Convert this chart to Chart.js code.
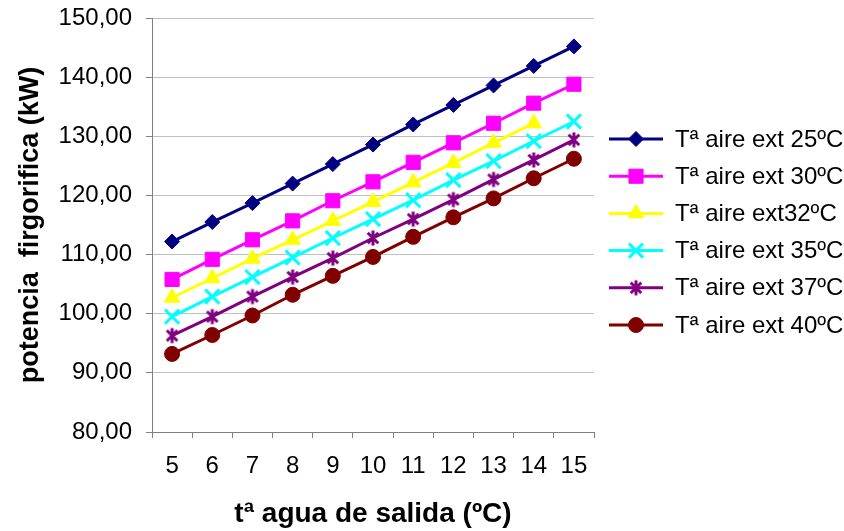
<!DOCTYPE html>
<html>
<head>
<meta charset="utf-8">
<script src="https://cdn.jsdelivr.net/npm/chart.js@4/dist/chart.umd.min.js"></script>
<style>
  html, body { margin: 0; padding: 0; background: #fff; }
  canvas { display: block; }
</style>
</head>
<body>
<canvas id="chart" width="844" height="531"></canvas>
<script>
// Water outlet temperature (ºC)
const categories = ['5', '6', '7', '8', '9', '10', '11', '12', '13', '14', '15'];

// Cooling capacity (kW) for each outdoor air temperature
const aire25 = [112.2, 115.5, 118.7, 122.0, 125.3, 128.6, 132.0, 135.3, 138.6, 141.9, 145.2];
const aire30 = [105.8, 109.2, 112.5, 115.7, 119.1, 122.3, 125.6, 128.9, 132.2, 135.6, 138.8];
const aire32 = [102.7, 106.0, 109.3, 112.5, 115.7, 118.9, 122.2, 125.5, 128.9, 132.2, null];
const aire35 = [99.5, 102.9, 106.2, 109.5, 112.8, 116.0, 119.2, 122.6, 125.8, 129.2, 132.5];
const aire37 = [96.3, 99.5, 102.9, 106.2, 109.4, 112.8, 116.0, 119.3, 122.7, 126.0, 129.4];
const aire40 = [93.2, 96.4, 99.7, 103.2, 106.4, 109.6, 113.0, 116.3, 119.5, 122.9, 126.2];

const seriesNames = [
  'Tª aire ext 25ºC',
  'Tª aire ext 30ºC',
  'Tª aire ext32ºC',
  'Tª aire ext 35ºC',
  'Tª aire ext 37ºC',
  'Tª aire ext 40ºC'
];

const yTicks = { min: 80, max: 150, step: 10 };

const FONT = "'Liberation Sans', Arial, Helvetica, sans-serif";
Chart.defaults.color = '#000';
Chart.defaults.font.family = FONT;

// Six-armed asterisk marker (vertical bar plus an X)
function asteriskMarker(color, size) {
  const c = document.createElement('canvas');
  c.width = size; c.height = size;
  const g = c.getContext('2d');
  const m = size / 2, r = size / 2 - 1.5, d = r * Math.SQRT1_2;
  g.strokeStyle = color;
  g.lineWidth = 3;
  g.lineCap = 'butt';
  g.beginPath();
  g.moveTo(m, m - r); g.lineTo(m, m + r);
  g.moveTo(m - d, m - d); g.lineTo(m + d, m + d);
  g.moveTo(m + d, m - d); g.lineTo(m - d, m + d);
  g.stroke();
  return c;
}

function series(label, data, color, style, radius, filled) {
  return {
    label, data,
    borderColor: color,
    backgroundColor: color,
    borderWidth: 3,
    pointStyle: style,
    pointRadius: radius,
    pointHoverRadius: radius,
    pointBackgroundColor: filled ? color : 'transparent',
    pointBorderColor: color,
    pointBorderWidth: filled ? 1 : 3,
    tension: 0,
    fill: false,
    spanGaps: false
  };
}

const datasets = [
  series(seriesNames[0], aire25, '#000080', 'rectRot', 7.5, true),
  series(seriesNames[1], aire30, '#FF00FF', 'rect', 10, true),
  series(seriesNames[2], aire32, '#FFFF00', 'triangle', 9, true),
  series(seriesNames[3], aire35, '#00FFFF', 'crossRot', 10, false),
  series(seriesNames[4], aire37, '#800080', asteriskMarker('#800080', 18), 9, false),
  series(seriesNames[5], aire40, '#800000', 'circle', 7.5, true)
];

// Legend at the right: short line with the series marker, then the name
const sideLegend = {
  id: 'sideLegend',
  afterDraw(chart) {
    const ctx = chart.ctx;
    const x0 = 609, x1 = 663, xm = 636, xt = 675;
    const yStart = 139, rowGap = 37.2;
    ctx.save();
    chart.data.datasets.forEach((ds, i) => {
      const y = yStart + i * rowGap;
      ctx.strokeStyle = ds.borderColor;
      ctx.lineWidth = 3;
      ctx.beginPath();
      ctx.moveTo(x0, y);
      ctx.lineTo(x1, y);
      ctx.stroke();
      ctx.fillStyle = ds.pointBackgroundColor;
      ctx.strokeStyle = ds.pointBorderColor;
      ctx.lineWidth = ds.pointBorderWidth;
      Chart.helpers.drawPoint(ctx, {
        pointStyle: ds.pointStyle,
        radius: ds.pointRadius,
        borderWidth: ds.pointBorderWidth,
        rotation: 0
      }, xm, y);
      ctx.fillStyle = '#000';
      ctx.font = '24px ' + FONT;
      ctx.textBaseline = 'middle';
      ctx.textAlign = 'left';
      ctx.fillText(ds.label, xt, y + 1);
    });
    ctx.restore();
  }
};

new Chart(document.getElementById('chart'), {
  type: 'line',
  data: { labels: categories, datasets },
  options: {
    responsive: false,
    animation: false,
    events: [],
    layout: { padding: { top: 18, right: 250, left: 0, bottom: 0 } },
    plugins: {
      legend: { display: false },
      tooltip: { enabled: false }
    },
    scales: {
      x: {
        type: 'category',
        offset: true,
        afterFit(scale) { scale.height = 99; },
        grid: {
          offset: true,
          drawOnChartArea: false,
          tickLength: 6,
          tickColor: '#808080'
        },
        border: { color: '#808080', width: 1 },
        ticks: {
          autoSkip: false,
          maxRotation: 0,
          padding: 14,
          font: { size: 24, family: FONT },
          color: '#000'
        },
        title: {
          display: true,
          text: 'tª agua de salida (ºC)',
          font: { size: 28, weight: 'bold', family: FONT, lineHeight: 1.2 },
          padding: { top: 0, bottom: 0 },
          color: '#000'
        }
      },
      y: {
        min: yTicks.min,
        max: yTicks.max,
        afterFit(scale) {
          scale.width = 152;
          scale.paddingTop = 0;
          scale.paddingBottom = 0;
        },
        grid: {
          color: '#c0c0c0',
          tickColor: '#808080',
          tickLength: 6,
          lineWidth: 1
        },
        border: { color: '#808080', width: 1 },
        ticks: {
          stepSize: yTicks.step,
          padding: 14,
          font: { size: 24, family: FONT },
          color: '#000',
          callback: v => v.toFixed(2).replace('.', ',')
        },
        title: {
          display: true,
          text: 'potencia  firgorifica (kW)',
          font: { size: 27, weight: 'bold', family: FONT, lineHeight: 1.2 },
          padding: { top: 14, bottom: 0 },
          color: '#000'
        }
      }
    }
  },
  plugins: [sideLegend]
});
</script>
</body>
</html>
